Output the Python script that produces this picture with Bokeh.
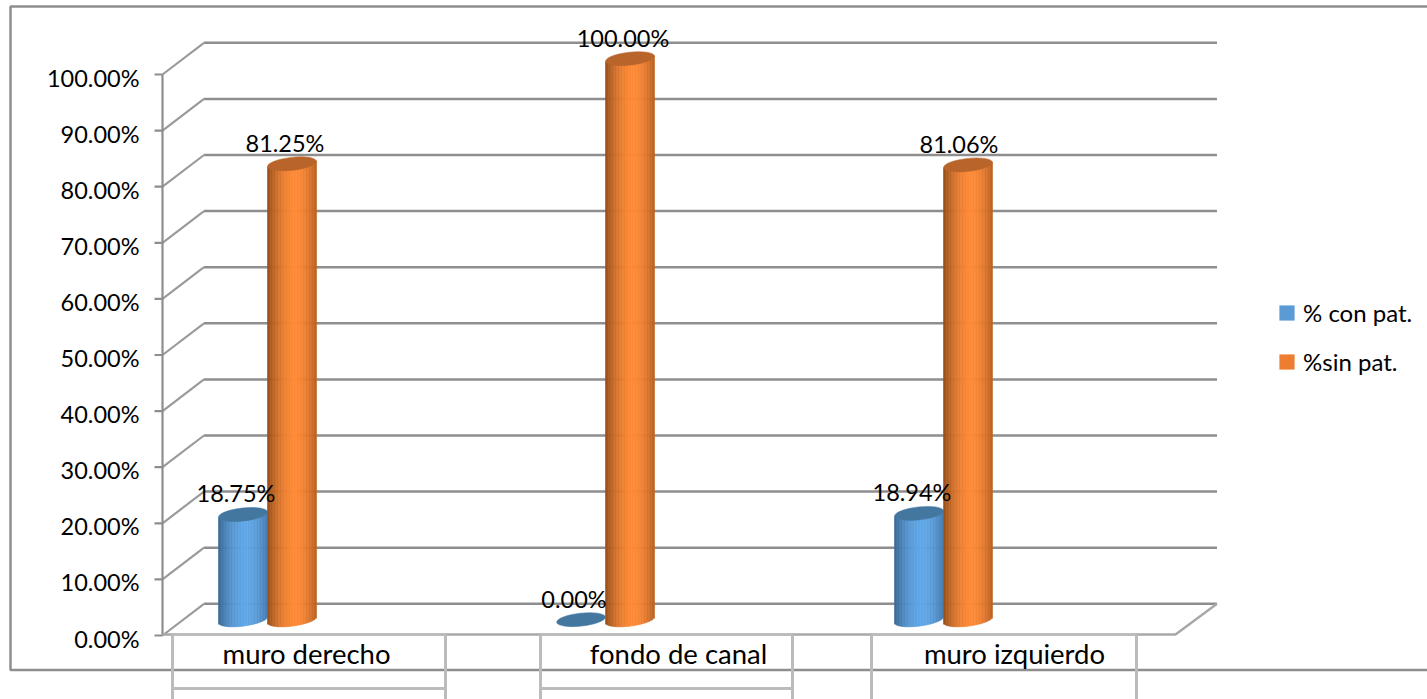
from bokeh.core.properties import value
from bokeh.embed import file_html
from bokeh.models import (ColumnDataSource, FixedTicker, Legend, LegendItem, LinearAxis,
                          PrintfTickFormatter, Range1d)
from bokeh.plotting import figure
from bokeh.resources import INLINE

# ---- values ----
categories = ["muro derecho", "fondo de canal", "muro izquierdo"]
con_pat = [18.75, 0.0, 18.94]
sin_pat = [81.25, 100.0, 81.06]
y_ticks = [0, 10, 20, 30, 40, 50, 60, 70, 80, 90, 100]
series_names = ["% con pat.", "%sin pat."]

# ---- drawing scale ----
WIDTH, HEIGHT = 1427, 699
X0_PX, CAT_PX = 267.0, 338.0       # first category centre, category pitch
Y0_PX, UNIT_PX = 635.0, 5.61       # baseline row, pixels per percentage point
FONT = "Lato"
GRID = "#8e8e8e"
TABLE = "#bcbcbc"
NAN = float("nan")


def dx(px):
    return px / CAT_PX


def dy(px):
    return px / UNIT_PX


def xp(px):
    return (px - X0_PX) / CAT_PX


def yp(px):
    return (Y0_PX - px) / UNIT_PX


DEPTH_X, DEPTH_Y = dx(41.5), dy(31.7)   # oblique depth of the 3-D box
BAR_W = dx(49)
CAP_H = dy(13)
TILT = dy(3)
AX_X = xp(162)
FLOOR_END = xp(1175)

p = figure(width=WIDTH, height=HEIGHT, output_backend="svg", toolbar_location=None,
           x_axis_location=None, y_axis_location=None,
           x_range=Range1d(xp(0), xp(WIDTH)), y_range=Range1d(yp(HEIGHT), yp(0)),
           min_border=0, outline_line_color=None, background_fill_color="white",
           border_fill_color="white")
p.grid.visible = False

# Outer chart border, open on the right
p.line([xp(WIDTH), xp(10), xp(10), xp(WIDTH)], [yp(6), yp(6), yp(669.5), yp(669.5)],
       line_color=GRID, line_width=2.5)

# Back wall gridlines and the oblique lines running down the side wall
for t in y_ticks:
    p.line([AX_X + DEPTH_X, FLOOR_END + DEPTH_X], [t + DEPTH_Y, t + DEPTH_Y],
           line_color=GRID, line_width=2.5)
    p.line([AX_X, AX_X + DEPTH_X], [t, t + DEPTH_Y], line_color="#9a9a9a", line_width=2.2)

# Axis spine and tick marks on the true value scale
p.line([AX_X, AX_X], [0, 100], line_color=GRID, line_width=2.2)
p.segment(x0=[AX_X - dx(8)] * len(y_ticks), x1=[AX_X] * len(y_ticks), y0=y_ticks, y1=y_ticks,
          line_color=GRID, line_width=2.2)

# Front edge of the floor, then the table rules under the plot
p.line([AX_X, FLOOR_END, FLOOR_END + DEPTH_X], [yp(634), yp(634), DEPTH_Y],
       line_color="#a8a8a8", line_width=2.5)
cells = [(172, 445, True), (540, 792, True), (871, 1136, False)]
for left, right, lower_rule in cells:
    p.line([xp(left), xp(right)], [yp(634), yp(634)], line_color=TABLE, line_width=3)
    for edge in (left, right):
        p.line([xp(edge), xp(edge)], [yp(634), yp(HEIGHT)], line_color=TABLE, line_width=3)
    if lower_rule:
        p.line([xp(left), xp(right)], [yp(688), yp(688)], line_color=TABLE, line_width=3)


def mix(a, b, f):
    ch = [round(a[i] + (b[i] - a[i]) * f) for i in range(3)]
    return "#%02x%02x%02x" % tuple(ch)


def cylinders(values, centre_shift, dark, light, cap):
    """Shaded cylinders: vertical strips clipped to the base ellipse, topped with a cap."""
    left, right, top, bottom, fills = [], [], [], [], []
    strips = 32
    cap_x, cap_y = [], []
    for i, v in enumerate(values):
        cx = i + centre_shift
        base = DEPTH_Y / 2
        cap_x.append(cx)
        cap_y.append(v + base)
        if v <= 0:
            continue
        for s in range(strips):
            t0 = -1 + 2 * s / strips
            t1 = -1 + 2 * (s + 1) / strips
            t = (t0 + t1) / 2
            u = min(abs(t - 0.12) / 1.12, 1)
            left.append(cx + t0 * BAR_W / 2)
            right.append(cx + t1 * BAR_W / 2)
            top.append(v + base + t * TILT)
            bottom.append(base + t * TILT - CAP_H / 2 * (1 - t * t) ** 0.5)
            fills.append(mix(dark, light, 1 - u ** 1.7))
    src = ColumnDataSource(dict(left=left, right=right, top=top, bottom=bottom, fill=fills))
    p.quad(left="left", right="right", top="top", bottom="bottom", source=src,
           fill_color="fill", line_color="fill", line_width=0.6)
    p.ellipse(x=cap_x, y=cap_y, width=BAR_W, height=CAP_H, angle=0.11,
              fill_color=cap, line_color=cap, line_width=0.5)


half = BAR_W / 2
cylinders(con_pat, -half, (58, 104, 148), (96, 167, 232), "#44779f")
cylinders(sin_pat, half, (150, 78, 26), (255, 138, 54), "#b9642a")

# Value labels
label_x, label_y, label_text, label_nudge = [], [], [], []
nudges = [[-7, -7, -7], [-7, -7, -9]]
for k, (vals, shift) in enumerate(((con_pat, -half), (sin_pat, half))):
    for i, v in enumerate(vals):
        label_x.append(i + shift)
        label_y.append(v + DEPTH_Y / 2)
        label_text.append(f"{v:.2f}%")
        label_nudge.append(nudges[k][i])
p.text(x="x", y="y", text="text", x_offset="nudge",
       source=ColumnDataSource(dict(x=label_x, y=label_y, text=label_text, nudge=label_nudge)),
       y_offset=-21, text_align="center", text_baseline="middle",
       text_font=value(FONT), text_font_size="23.5px", text_color="#000000")

# Category names sit in the table cells
cat_shift = [39, 73, 71]
p.text(x=list(range(len(categories))), y=[yp(653)] * len(categories), text=categories,
       x_offset=cat_shift, text_align="center", text_baseline="middle",
       text_font=value(FONT), text_font_size="27.5px", text_color="#000000")

# Percentage labels: an axis inside the frame, on a range lowered a little below the ticks
LABEL_DROP = dy(3)
p.extra_y_ranges["labels"] = Range1d(yp(HEIGHT) + LABEL_DROP, yp(0) + LABEL_DROP)
label_axis = LinearAxis(y_range_name="labels", fixed_location=AX_X, bounds=(0, 100),
                        ticker=FixedTicker(ticks=y_ticks),
                        formatter=PrintfTickFormatter(format="%.2f%%"),
                        axis_line_color=None, major_tick_line_color=None,
                        minor_tick_line_color=None, major_tick_in=0, major_tick_out=8,
                        major_label_standoff=15, major_label_text_font=FONT,
                        major_label_text_font_size="23.5px", major_label_text_color="#000000")
p.add_layout(label_axis, "left")

# Legend with flat swatches (the legend insets an area glyph by a tenth on each side)
swatch_a = p.quad(left=[NAN], right=[NAN], top=[NAN], bottom=[NAN],
                  fill_color="#5b9bd5", line_color=None)
swatch_b = p.quad(left=[NAN], right=[NAN], top=[NAN], bottom=[NAN],
                  fill_color="#ed7d31", line_color=None)
legend = Legend(items=[LegendItem(label=series_names[0], renderers=[swatch_a]),
                       LegendItem(label=series_names[1], renderers=[swatch_b])],
                location=(1277, 699 - 376), orientation="vertical", margin=0, padding=0,
                spacing=20, glyph_width=19, glyph_height=19, label_standoff=7,
                label_text_font=FONT, label_text_font_size="24px", label_text_color="#000000",
                border_line_color=None, background_fill_alpha=0)
p.add_layout(legend, "center")

open("out.html", "w").write(file_html(p, INLINE))
